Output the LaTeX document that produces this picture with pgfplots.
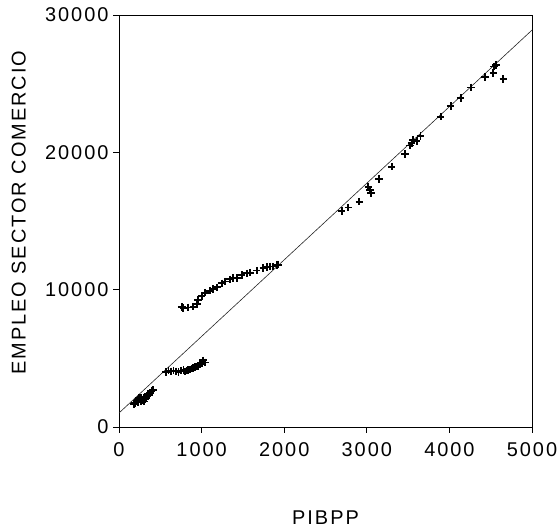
\documentclass[border=0pt]{standalone}
\usepackage{fontspec}
\setmainfont[LetterSpace=10]{Liberation Sans}
\usepackage{pgfplots}
\pgfplotsset{compat=1.18}
\begin{document}
\begin{tikzpicture}[x=1bp,y=1bp]
\path[use as bounding box] (0,0) rectangle (559,530);
\begin{axis}[
  at={(119bp,103bp)}, anchor=south west,
  width=413bp, height=412bp, scale only axis,
  xmin=0, xmax=5000, ymin=0, ymax=30000,
  xtick={0,1000,2000,3000,4000,5000},
  ytick={0,10000,20000,30000},
  tick align=outside, tick pos=left, major tick length=6bp,
  scaled ticks=false,
  /pgf/number format/assume math mode=true,
  /pgf/number format/1000 sep={},
  tick style={black, line width=0.8bp},
  axis line style={black, line width=0.8bp},
  font=\fontsize{20}{23}\selectfont,
  xticklabel style={yshift=-6bp},
  yticklabel style={xshift=-1bp},
  xlabel={PIBPP}, ylabel={EMPLEO SECTOR COMERCIO},
  xlabel style={at={(axis description cs:0.5,-0.221)}, anchor=center},
  ylabel style={at={(axis description cs:-0.243,0.52)}, anchor=center},
  clip=false,
]
\addplot[black!85, line width=0.6bp] coordinates {(0,1020) (5000,28900)};
\addplot[only marks, mark=+, mark size=3.8bp, line width=1.8bp, black] coordinates {
(180,1650) (195,1750) (210,1900) (225,2000) (240,2150) (250,2050) (260,1900)
(270,1850) (285,1950) (295,2000) (305,2100) (315,2050) (325,2200) (340,2250)
(350,2400) (365,2350) (380,2500) (395,2600) (410,2700) (230,1800) (270,2100) (300,1850)
(570,4000) (600,4100) (630,4050) (660,4100) (690,4050) (720,4000) (750,4100)
(780,4150) (800,4050) (820,4100) (840,4150) (860,4200) (880,4250) (900,4300)
(920,4350) (940,4400) (960,4450) (980,4550) (1000,4650) (1020,4850) (1040,4700)
(760,8750) (779,8650) (839,8700) (900,8760) (948,8960) (960,9250) (1001,9540)
(1041,9780) (1102,9930) (1142,10030) (1183,10170) (1243,10460) (1283,10590)
(1344,10750) (1384,10830) (1425,10830) (1485,11070) (1546,11190) (1586,11240)
(1667,11390) (1747,11560) (1788,11630) (1828,11680) (1868,11680) (1909,11780) (1929,11820)
(2696,15730) (2776,15980) (2910,16410) (3019,17500) (3039,17260) (3051,17020)
(3148,18060) (3301,18960) (3462,19880) (3520,20500) (3543,20660) (3560,20900)
(3604,20830) (3650,21200)
(3894,22600) (4015,23380) (4136,23940) (4258,24720) (4431,25470) (4532,25760)
(4540,26250) (4564,26370) (4653,25350)
};
\end{axis}
\end{tikzpicture}
\end{document}
